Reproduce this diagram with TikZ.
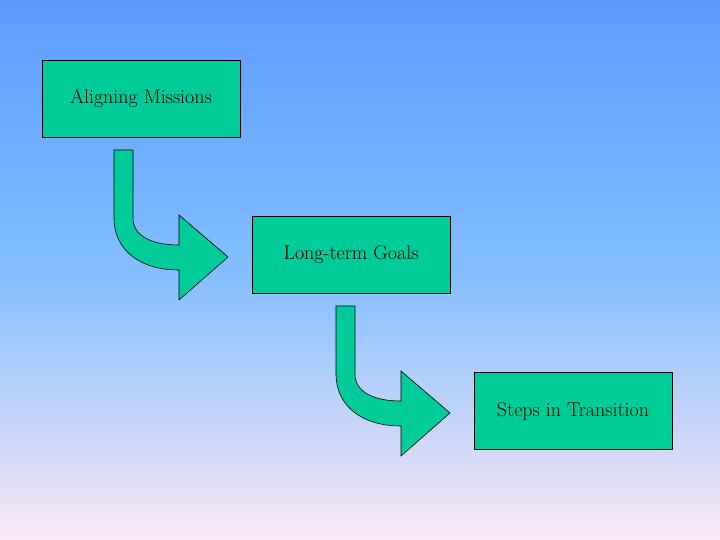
\documentclass[tikz,border=0pt]{standalone}
\begin{document}
\begin{tikzpicture}[x=1pt,y=-1pt,
  box/.style={draw=black,fill=boxc,minimum width=198pt,minimum height=77pt,inner sep=0pt,font=\fontsize{20}{24}\selectfont},
  arr/.style={draw=black,fill=boxc,line width=0.6pt}]
\definecolor{boxc}{RGB}{0,204,153}
\definecolor{topc}{RGB}{91,155,255}
\definecolor{midc}{RGB}{130,190,255}
\definecolor{botc}{RGB}{250,232,245}
\shade[top color=topc,bottom color=botc,middle color=midc] (0,0) rectangle (720,540);
\useasboundingbox (0,0) rectangle (720,540);
\node[box] (a) at (141,98.5) {Aligning Missions};
\node[box] (b) at (351,255) {Long-term Goals};
\node[box] (c) at (573,411) {Steps in Transition};
\foreach \n/\dx/\dy in {1/0/0,2/222/156}{
\draw[arr,shift={(\dx,\dy)}] (114,150) -- (133,150) -- (133,218) .. controls (133,235) and (150,245) .. (179,245)
  -- (179,215) -- (228,257) -- (179,300) -- (179,270) .. controls (140,270) and (114,250) .. (114,218) -- cycle;
}
\end{tikzpicture}
\end{document}
